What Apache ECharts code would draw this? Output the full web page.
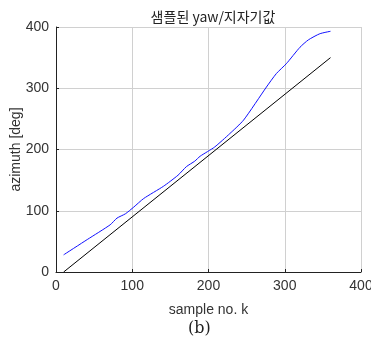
<!DOCTYPE html>
<html>
<head>
<meta charset="utf-8">
<script src="https://cdn.jsdelivr.net/npm/echarts@6/dist/echarts.min.js"></script>
<style>
  html, body { margin: 0; padding: 0; background: #fff; }
  #chart { width: 371px; height: 338px; }
</style>
</head>
<body>
<div id="chart"></div>
<script>
// sampled yaw (blue) vs magnetometer reference (black)
const yawK   = [10, 41, 71, 80, 91, 102, 115, 141, 160, 171, 182, 189, 208, 228, 246, 276, 289, 302, 320, 331, 346, 360];
const yawVal = [28, 53, 77, 88, 95, 106, 120, 140, 158, 172, 181, 189, 204, 226, 248, 302, 324, 340, 367, 379, 389, 393];
const refK   = [10, 360];
const refVal = [0, 350];
const xTicks = [0, 400, 100];
const yTicks = [0, 400, 100];

const pairs = (a, b) => a.map((v, i) => [v, b[i]]);

const chart = echarts.init(document.getElementById('chart'));
const axisText = { color: '#333', fontSize: 14, fontFamily: 'Liberation Sans, Arial, sans-serif' };

chart.setOption({
  animation: false,
  title: {
    text: '샘플된 yaw/지자기값',
    left: 208, top: 5, textAlign: 'center',
    textStyle: { fontSize: 14, fontWeight: 'normal', color: '#222',
      fontFamily: 'Noto Sans CJK KR, sans-serif' }
  },
  grid: { left: 56, right: 10, top: 27, bottom: 66, outerBoundsMode: 'none', containLabel: false },
  xAxis: {
    type: 'value', min: xTicks[0], max: xTicks[1], interval: xTicks[2],
    name: 'sample no. k', nameLocation: 'middle', nameGap: 31,
    nameTextStyle: axisText,
    axisLine: { lineStyle: { color: '#222', width: 1 } },
    axisTick: { inside: true, length: 3, lineStyle: { color: '#222' } },
    axisLabel: Object.assign({ margin: 7 }, axisText),
    splitLine: { show: true, lineStyle: { color: '#d0d0d0', width: 1 } }
  },
  yAxis: {
    type: 'value', min: yTicks[0], max: yTicks[1], interval: yTicks[2],
    name: 'azimuth [deg]', nameLocation: 'middle', nameGap: 33, nameRotate: 90,
    nameMoveOverlap: false,
    nameTextStyle: axisText,
    axisLine: { show: true, lineStyle: { color: '#222', width: 1 } },
    axisTick: { show: true, inside: true, length: 3, lineStyle: { color: '#222' } },
    axisLabel: Object.assign({ margin: 7 }, axisText),
    splitLine: { show: true, lineStyle: { color: '#d0d0d0', width: 1 } }
  },
  graphic: [{
    type: 'text', left: 188, top: 321,
    style: { text: '(b)', fontSize: 16, fill: '#222', fontFamily: 'DejaVu Serif, serif' }
  }],
  series: [
    {
      type: 'line', data: pairs(refK, refVal), showSymbol: false,
      lineStyle: { color: '#000', width: 1 }, z: 2
    },
    {
      type: 'line', data: pairs(yawK, yawVal), showSymbol: false, smooth: 0.2,
      lineStyle: { color: '#1010ff', width: 1 }, z: 3
    }
  ]
});
</script>
</body>
</html>
